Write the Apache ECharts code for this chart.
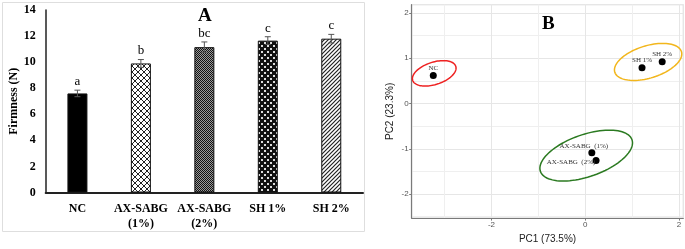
<!DOCTYPE html>
<html>
<head>
<meta charset="utf-8">
<script src="https://cdn.jsdelivr.net/npm/echarts@6/dist/echarts.min.js"></script>
<style>
  html, body { margin: 0; padding: 0; background: #fff; }
  #chart { width: 685px; height: 249px; }
</style>
</head>
<body>
<div id="chart"></div>
<script>
// panel A: firmness
let treatments = ['NC', 'AX-SABG\n(1%)', 'AX-SABG\n(2%)', 'SH 1%', 'SH 2%'];
let firmness = [7.6, 9.9, 11.15, 11.65, 11.8];
let firmnessErr = [0.25, 0.3, 0.4, 0.3, 0.33];
let letters = ['a', 'b', 'bc', 'c', 'c'];
let firmnessRange = [0, 14];
let firmnessStep = 2;

// panel B: PCA scores
let pcaNames = ['NC', 'SH 1%', 'SH 2%', 'AX-SABG  (1%)', 'AX-SABG  (2%)'];
let pc1 = [-3.24, 1.21, 1.64, 0.14, 0.23];
let pc2 = [0.62, 0.79, 0.92, -1.09, -1.26];
let pc1Range = [-3.7, 2.09];
let pc2Range = [-2.53, 2.18];
// confidence ellipses (data units): NC, SH, AX-SABG
let ellCx = [-3.22, 1.34, 0.02];
let ellCy = [0.665, 0.917, -1.15];
let ellRx = [0.485, 0.746, 1.037];
let ellRy = [0.245, 0.355, 0.463];
let ellAngle = [19, 18, 20];

let serif = '"Liberation Serif", "Times New Roman", serif';
let sans = '"Liberation Sans", Arial, sans-serif';

function makePattern(size, draw) {
  let c = document.createElement('canvas');
  c.width = size;
  c.height = size;
  let ctx = c.getContext('2d');
  draw(ctx, size);
  return {image: c, repeat: 'repeat'};
}

let patterns = [
  '#000',
  makePattern(6, function (ctx, s) {
    ctx.fillStyle = '#fff'; ctx.fillRect(0, 0, s, s);
    ctx.strokeStyle = '#222'; ctx.lineWidth = 1;
    ctx.beginPath();
    ctx.moveTo(0, 0); ctx.lineTo(s, s);
    ctx.moveTo(s, 0); ctx.lineTo(0, s);
    ctx.stroke();
  }),
  makePattern(2, function (ctx, s) {
    ctx.fillStyle = '#9a9a9a'; ctx.fillRect(0, 0, s, s);
    ctx.fillStyle = '#111';
    ctx.fillRect(0, 0, 1, 1); ctx.fillRect(1, 1, 1, 1);
  }),
  makePattern(6, function (ctx, s) {
    ctx.fillStyle = '#111'; ctx.fillRect(0, 0, s, s);
    ctx.fillStyle = '#ddd';
    ctx.fillRect(0, 0, 2, 2); ctx.fillRect(3, 3, 2, 2);
  }),
  makePattern(4, function (ctx, s) {
    ctx.fillStyle = '#fff'; ctx.fillRect(0, 0, s, s);
    ctx.strokeStyle = '#222'; ctx.lineWidth = 1.2;
    ctx.beginPath();
    ctx.moveTo(0, s); ctx.lineTo(s, 0);
    ctx.moveTo(-1, 1); ctx.lineTo(1, -1);
    ctx.moveTo(s - 1, s + 1); ctx.lineTo(s + 1, s - 1);
    ctx.stroke();
  })
];

let ellColors = ['#ee2222', '#f2b61c', '#2b7a21'];

// label placement around each point, relative to its centre
let labelOffset = {
  'NC': [0, -7],
  'SH 1%': [0, -8],
  'SH 2%': [0, -8],
  'AX-SABG  (1%)': [-8, -6.5],
  'AX-SABG  (2%)': [-25, 2]
};

function renderErrorBar(params, api) {
  let i = api.value(0);
  let v = api.value(1);
  let e = api.value(2);
  let top = api.coord([i, v + e]);
  let bot = api.coord([i, v - e]);
  let hw = 3;
  let ls = {stroke: '#555', lineWidth: 1};
  return {
    type: 'group',
    children: [
      {type: 'line', shape: {x1: top[0], y1: top[1], x2: bot[0], y2: bot[1]}, style: ls},
      {type: 'line', shape: {x1: top[0] - hw, y1: top[1], x2: top[0] + hw, y2: top[1]}, style: ls},
      {type: 'line', shape: {x1: bot[0] - hw, y1: bot[1], x2: bot[0] + hw, y2: bot[1]}, style: ls},
      {
        type: 'text',
        style: {
          x: top[0], y: top[1] - 2, text: letters[i],
          align: 'center', verticalAlign: 'bottom',
          fontSize: 13, fontFamily: serif, fill: '#000'
        }
      }
    ]
  };
}

function renderEllipse(params, api) {
  let cx = api.value(0), cy = api.value(1);
  let rx = api.value(2), ry = api.value(3);
  let a = api.value(4) * Math.PI / 180;
  let pts = [];
  for (let k = 0; k < 96; k++) {
    let t = k / 96 * Math.PI * 2;
    let x = cx + rx * Math.cos(t) * Math.cos(a) - ry * Math.sin(t) * Math.sin(a);
    let y = cy + rx * Math.cos(t) * Math.sin(a) + ry * Math.sin(t) * Math.cos(a);
    pts.push(api.coord([x, y]));
  }
  return {
    type: 'polygon',
    shape: {points: pts},
    style: {fill: 'none', stroke: ellColors[params.dataIndex], lineWidth: 1.5}
  };
}

let myChart = echarts.init(document.getElementById('chart'), null, {renderer: 'canvas'});

// minor grid lines only (ggplot style), no labels
let pcAxisBase = {
  type: 'value',
  gridIndex: 1,
  axisLine: {show: false},
  axisTick: {show: false},
  axisLabel: {show: false},
  splitLine: {show: true, lineStyle: {color: '#efefef', width: 1}}
};

let option = {
  backgroundColor: '#fff',
  animation: false,
  graphic: [
    {
      type: 'rect', z: -1,
      shape: {x: 2.5, y: 2.5, width: 362, height: 229},
      style: {fill: 'none', stroke: '#dedede', lineWidth: 1}
    },
    {
      type: 'text', left: 198, top: 7,
      style: {text: 'A', fontSize: 19, fontWeight: 'bold', fontFamily: serif, fill: '#000'}
    },
    {
      type: 'text', left: 542, top: 15,
      style: {text: 'B', fontSize: 19, fontWeight: 'bold', fontFamily: serif, fill: '#000'}
    }
  ],
  grid: [
    {left: 45.7, top: 10, width: 317.3, height: 182.5},
    {left: 411.7, top: 4.7, width: 271.6, height: 221.8, show: true,
      borderColor: '#c9c9c9', borderWidth: 1, backgroundColor: 'transparent'}
  ],
  xAxis: [
    {
      type: 'category',
      gridIndex: 0,
      data: treatments,
      axisLine: {lineStyle: {color: '#222', width: 2}},
      axisTick: {show: false},
      axisLabel: {
        interval: 0, margin: 9, color: '#000', fontSize: 12, fontWeight: 'bold',
        fontFamily: serif, lineHeight: 15
      }
    },
    Object.assign({}, pcAxisBase, {position: 'top', min: pc1Range[0], max: pc1Range[1], splitNumber: 6}),
    {
      type: 'value',
      gridIndex: 1,
      position: 'bottom',
      min: pc1Range[0], max: pc1Range[1], splitNumber: 3,
      name: 'PC1 (73.5%)',
      nameLocation: 'middle',
      nameGap: 12,
      nameTextStyle: {color: '#222', fontSize: 10, fontFamily: sans},
      axisLine: {show: true, onZero: false, lineStyle: {color: '#7a7a7a', width: 1.2}},
      axisTick: {show: true, length: 2.5, lineStyle: {color: '#7a7a7a'}},
      axisLabel: {
        color: '#555', fontSize: 8, fontFamily: sans, margin: 3,
        showMinLabel: false, showMaxLabel: false,
        formatter: function (v) { return Math.abs(v % 2) < 1e-6 ? String(v) : ''; }
      },
      splitLine: {show: true, lineStyle: {color: '#e6e6e6', width: 1}}
    }
  ],
  yAxis: [
    {
      type: 'value',
      gridIndex: 0,
      min: firmnessRange[0], max: firmnessRange[1], interval: firmnessStep,
      name: 'Firmness (N)',
      nameLocation: 'middle',
      nameGap: 26,
      nameTextStyle: {color: '#000', fontSize: 12, fontWeight: 'bold', fontFamily: serif},
      axisLine: {show: true, lineStyle: {color: '#222', width: 1.5}},
      axisTick: {show: false},
      axisLabel: {margin: 10, color: '#000', fontSize: 12, fontWeight: 'bold', fontFamily: serif},
      splitLine: {show: false}
    },
    Object.assign({}, pcAxisBase, {position: 'right', min: pc2Range[0], max: pc2Range[1], splitNumber: 10}),
    {
      type: 'value',
      gridIndex: 1,
      position: 'left',
      min: pc2Range[0], max: pc2Range[1], splitNumber: 5,
      name: 'PC2 (23.3%)',
      nameLocation: 'middle',
      nameGap: 16,
      nameTextStyle: {color: '#222', fontSize: 10, fontFamily: sans},
      axisLine: {show: true, onZero: false, lineStyle: {color: '#7a7a7a', width: 1.2}},
      axisTick: {show: true, length: 2.5, lineStyle: {color: '#7a7a7a'}},
      axisLabel: {
        color: '#555', fontSize: 8, fontFamily: sans, margin: 3,
        showMinLabel: false, showMaxLabel: false,
        formatter: function (v) { return Math.abs(v % 1) < 1e-6 ? String(v) : ''; }
      },
      splitLine: {show: true, lineStyle: {color: '#e6e6e6', width: 1}}
    }
  ],
  series: [
    {
      name: 'firmness',
      type: 'bar',
      xAxisIndex: 0,
      yAxisIndex: 0,
      barWidth: 20,
      data: firmness.map(function (v, i) {
        return {value: v, itemStyle: {color: patterns[i], borderColor: '#111', borderWidth: 1}};
      })
    },
    {
      name: 'error',
      type: 'custom',
      xAxisIndex: 0,
      yAxisIndex: 0,
      z: 5,
      renderItem: renderErrorBar,
      encode: {x: 0, y: 1},
      data: firmness.map(function (v, i) { return [i, v, firmnessErr[i]]; })
    },
    {
      name: 'ellipses',
      type: 'custom',
      xAxisIndex: 2,
      yAxisIndex: 2,
      renderItem: renderEllipse,
      encode: {x: 0, y: 1},
      data: ellCx.map(function (cx, i) { return [cx, ellCy[i], ellRx[i], ellRy[i], ellAngle[i]]; })
    },
    {
      name: 'scores',
      type: 'scatter',
      xAxisIndex: 2,
      yAxisIndex: 2,
      symbolSize: 7,
      itemStyle: {color: '#000', opacity: 1},
      data: pcaNames.map(function (n, i) {
        return {
          name: n,
          value: [pc1[i], pc2[i]],
          label: {
            show: true,
            position: 'inside',
            offset: labelOffset[n],
            formatter: '{b}',
            color: '#333',
            fontSize: 7,
            fontFamily: serif
          }
        };
      })
    }
  ]
};
myChart.setOption(option);
</script>
</body>
</html>
